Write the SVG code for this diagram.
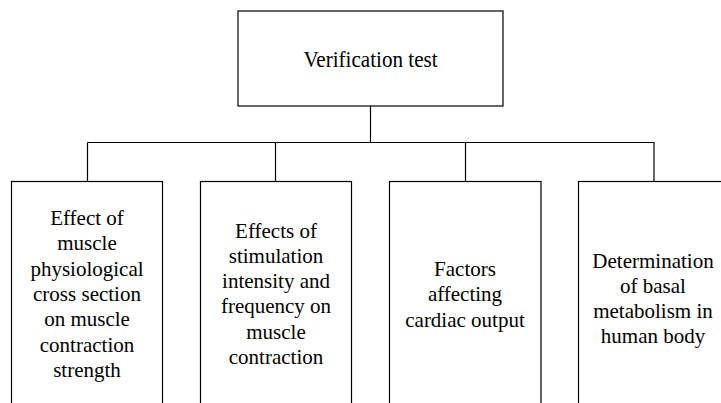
<svg xmlns="http://www.w3.org/2000/svg" width="721" height="403" viewBox="0 0 721 403">
<style>
.box{fill:#fff;stroke:#000;stroke-width:1.2}
.ln{fill:none;stroke:#000;stroke-width:1.2}
.t{fill:#000;text-anchor:middle;font-family:'Liberation Serif','Times New Roman',serif;font-size:21px}
</style>
<rect width="721" height="403" fill="#fff"/>
<g id="connectors">
<path class="ln" d="M370.5 106V142.5M87.5 142.5H654.5M87.5 142.5V181.5M275.5 142.5V181.5M465.5 142.5V181.5M654 142.5V181.5"/>
</g>
<g id="root">
<rect class="box" x="238" y="11" width="265" height="95"/>
<text class="t" x="370.5" y="67" style="font-size:24px" transform="translate(370.5 0) scale(0.88 1) translate(-370.5 0)">Verification test</text>
</g>
<g id="n1">
<rect class="box" x="11.5" y="181.5" width="151" height="230"/>
<text class="t" x="87" y="225">Effect of</text>
<text class="t" x="87" y="250.3">muscle</text>
<text class="t" x="87" y="275.6">physiological</text>
<text class="t" x="87" y="301">cross section</text>
<text class="t" x="87" y="326.3">on muscle</text>
<text class="t" x="87" y="351.6">contraction</text>
<text class="t" x="87" y="377">strength</text>
</g>
<g id="n2">
<rect class="box" x="200.5" y="181.5" width="151" height="230"/>
<text class="t" x="276" y="237.7">Effects of</text>
<text class="t" x="276" y="263">stimulation</text>
<text class="t" x="276" y="288.2">intensity and</text>
<text class="t" x="276" y="313.4">frequency on</text>
<text class="t" x="276" y="338.6">muscle</text>
<text class="t" x="276" y="363.8">contraction</text>
</g>
<g id="n3">
<rect class="box" x="389.5" y="181.5" width="151.5" height="230"/>
<text class="t" x="465" y="276">Factors</text>
<text class="t" x="465" y="301.3">affecting</text>
<text class="t" x="465" y="326.6">cardiac output</text>
</g>
<g id="n4">
<rect class="box" x="578.5" y="181.5" width="160" height="230"/>
<text class="t" x="653" y="267.5">Determination</text>
<text class="t" x="653" y="292.7">of basal</text>
<text class="t" x="653" y="317.9">metabolism in</text>
<text class="t" x="653" y="343.1">human body</text>
</g>
</svg>
